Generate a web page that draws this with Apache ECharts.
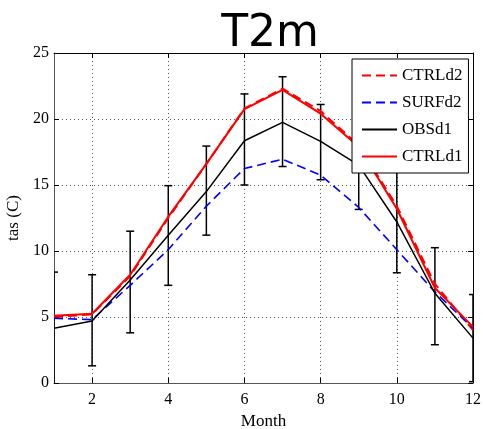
<!DOCTYPE html>
<html>
<head>
<meta charset="utf-8">
<script src="https://cdn.jsdelivr.net/npm/echarts@6/dist/echarts.min.js"></script>
<style>
html,body{margin:0;padding:0;background:#fff;}
#chart{width:483px;height:429px;}
</style>
</head>
<body>
<div id="chart"></div>
<script>
var months = [1,2,3,4,5,6,7,8,9,10,11,12];
var xTicks = [2,4,6,8,10,12];
var ctrlD2 = [5.0, 5.2, 8.1, 12.5, 16.6, 20.8, 22.3, 20.6, 18.0, 13.4, 7.5, 4.0];
var surfD2 = [4.9, 4.8, 7.4, 10.1, 13.4, 16.25, 16.95, 15.75, 13.3, 10.1, 6.9, 4.15];
var obsD1 = [4.15, 4.7, 7.8, 11.2, 14.5, 18.35, 19.75, 18.3, 16.5, 12.2, 6.8, 3.4];
var ctrlD1 = [5.1, 5.25, 8.2, 12.6, 16.6, 20.75, 22.2, 20.4, 17.9, 13.2, 7.2, 4.25];
var errLow = [-0.1, 1.3, 3.8, 7.4, 11.2, 15.0, 16.4, 15.4, 13.15, 8.35, 2.9, 0.1];
var errHigh = [8.4, 8.2, 11.5, 14.95, 17.95, 21.9, 23.2, 21.1, 19.85, 16.05, 10.25, 6.7];

function pairs(arr){ return months.map(function(m,i){ return [m, arr[i]]; }); }
var errData = months.map(function(m,i){ return [m, errLow[i], errHigh[i]]; });

var serif = '"Liberation Serif", "DejaVu Serif", serif';
var chart = echarts.init(document.getElementById('chart'), null, {renderer:'canvas'});
var option = {
  animation: false,
  backgroundColor: '#fff',
  title: {
    text: 'T2m', left: 265, top: 8, textAlign: 'center',
    textStyle: {fontFamily: '"DejaVu Sans", sans-serif', fontSize: 44, fontWeight: 'normal', color: '#000'}
  },
  grid: {left: 54, right: 10, top: 53, bottom: 46, containLabel: false, outerBoundsMode: 'none'},
  legend: {
    orient: 'vertical', left: 352, top: 59, z: 10,
    backgroundColor: '#fff', borderColor: '#000', borderWidth: 1, borderRadius: 0,
    padding: [8, 6, 8, 9], itemWidth: 35, itemHeight: 14, itemGap: 10,
    itemStyle: {color: 'transparent', borderWidth: 0, opacity: 0},
    textStyle: {fontFamily: serif, fontSize: 17, color: '#000'},
    data: ['CTRLd2', 'SURFd2', 'OBSd1', 'CTRLd1']
  },
  xAxis: [{
    type: 'value', min: 1, max: 12, position: 'bottom',
    name: 'Month', nameLocation: 'middle', nameGap: 27,
    nameTextStyle: {fontFamily: serif, fontSize: 17, color: '#000'},
    axisLine: {show: true, lineStyle: {color: '#555', width: 1}},
    axisTick: {show: true, inside: true, length: 5, customValues: xTicks, lineStyle: {color: '#000'}},
    axisLabel: {customValues: xTicks, margin: 9, fontFamily: serif, fontSize: 16, color: '#000'},
    splitLine: {show: true, lineStyle: {color: '#555', type: [1, 3], width: 1}}
  }, {
    type: 'value', min: 1, max: 12, position: 'top',
    axisLine: {show: true, onZero: false, lineStyle: {color: '#000', width: 1}},
    axisTick: {show: true, inside: true, length: 5, customValues: xTicks, lineStyle: {color: '#000'}},
    axisLabel: {show: false},
    splitLine: {show: false}
  }],
  yAxis: [{
    type: 'value', min: 0, max: 25, interval: 5, position: 'left',
    name: 'tas (C)', nameLocation: 'middle', nameGap: 32,
    nameTextStyle: {fontFamily: serif, fontSize: 17, color: '#000'},
    axisLine: {show: true, lineStyle: {color: '#555', width: 1}},
    axisTick: {show: true, inside: true, length: 5, lineStyle: {color: '#000'}},
    axisLabel: {margin: 5, fontFamily: serif, fontSize: 16, color: '#000'},
    splitLine: {show: true, lineStyle: {color: '#555', type: [1, 3], width: 1}}
  }, {
    type: 'value', min: 0, max: 25, interval: 5, position: 'right',
    axisLine: {show: true, onZero: false, lineStyle: {color: '#000', width: 1}},
    axisTick: {show: true, inside: true, length: 5, lineStyle: {color: '#000'}},
    axisLabel: {show: false},
    splitLine: {show: false}
  }],
  series: [
    {name: 'CTRLd2', type: 'line', data: pairs(ctrlD2), symbol: 'none', z: 3,
     lineStyle: {color: '#ff0000', width: 2, type: [9, 5]}, itemStyle: {color: '#ff0000'}},
    {name: 'SURFd2', type: 'line', data: pairs(surfD2), symbol: 'none', z: 3,
     lineStyle: {color: '#0000ff', width: 1.6, type: [9, 5]}, itemStyle: {color: '#0000ff'}},
    {name: 'OBSd1', type: 'line', data: pairs(obsD1), symbol: 'none', z: 3,
     lineStyle: {color: '#000', width: 1.5}, itemStyle: {color: '#000'}},
    {name: 'CTRLd1', type: 'line', data: pairs(ctrlD1), symbol: 'none', z: 3,
     lineStyle: {color: '#ff0000', width: 2}, itemStyle: {color: '#ff0000'}},
    {name: 'err', type: 'custom', data: errData, z: 3, clip: true,
     renderItem: function(params, api){
       var x = api.value(0);
       var lo = api.coord([x, api.value(1)]);
       var hi = api.coord([x, api.value(2)]);
       var w = 4;
       var st = {stroke: '#000', lineWidth: 1.5};
       return {type: 'group', children: [
         {type: 'line', shape: {x1: lo[0], y1: lo[1], x2: hi[0], y2: hi[1]}, style: st},
         {type: 'line', shape: {x1: lo[0]-w, y1: lo[1], x2: lo[0]+w, y2: lo[1]}, style: st},
         {type: 'line', shape: {x1: hi[0]-w, y1: hi[1], x2: hi[0]+w, y2: hi[1]}, style: st}
       ]};
     }}
  ]
};
chart.setOption(option);
</script>
</body>
</html>
